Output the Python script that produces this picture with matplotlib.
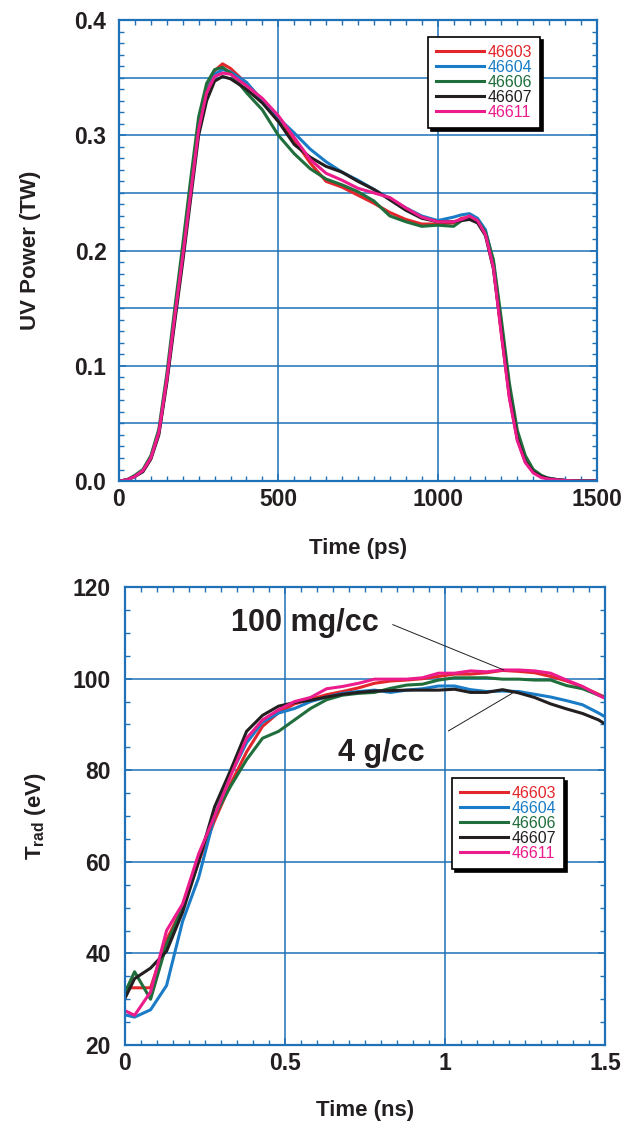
import numpy as np
import matplotlib
matplotlib.use("Agg")
import matplotlib.pyplot as plt
from matplotlib.ticker import MultipleLocator

plt.rcParams["font.family"] = ["Liberation Sans", "DejaVu Sans"]
plt.rcParams["font.weight"] = "bold"
plt.rcParams["axes.labelweight"] = "bold"
plt.rcParams["mathtext.fontset"] = "custom"
plt.rcParams["mathtext.rm"] = "Liberation Sans:bold"
plt.rcParams["mathtext.default"] = "rm"

# ---- data ----
shots = ["46603", "46604", "46606", "46607", "46611"]
shot_colors = ["#e3262b", "#1a7cc6", "#1f6e3b", "#231f20", "#ec1c8c"]

# top panel: UV laser power vs time (ps)
t_ps = [0, 25, 50, 75, 100, 125, 150, 175, 200, 225, 250, 275, 300, 325, 350,
        400, 450, 500, 550, 600, 650, 700, 750, 800, 850, 900, 950, 1000, 1050,
        1075, 1100, 1125, 1150, 1175, 1200, 1225, 1250, 1275, 1300, 1325, 1350,
        1400, 1450, 1500]
p_46603 = [0, 0.001, 0.004, 0.009, 0.020, 0.042, 0.088, 0.143, 0.195, 0.250,
           0.306, 0.340, 0.356, 0.362, 0.358, 0.345, 0.330, 0.312, 0.296, 0.276,
           0.260, 0.255, 0.248, 0.241, 0.233, 0.227, 0.223, 0.223, 0.224, 0.228,
           0.229, 0.226, 0.215, 0.186, 0.128, 0.073, 0.036, 0.017, 0.008, 0.004,
           0.002, 0.0005, 0, 0]
p_46604 = [0, 0.001, 0.004, 0.009, 0.020, 0.042, 0.088, 0.143, 0.195, 0.250,
           0.305, 0.338, 0.353, 0.357, 0.355, 0.346, 0.330, 0.315, 0.302, 0.288,
           0.277, 0.268, 0.261, 0.253, 0.245, 0.237, 0.230, 0.226, 0.229, 0.231,
           0.232, 0.228, 0.218, 0.190, 0.133, 0.077, 0.038, 0.018, 0.008, 0.004,
           0.002, 0.0005, 0, 0]
p_46606 = [0, 0.001, 0.005, 0.010, 0.022, 0.045, 0.093, 0.150, 0.205, 0.262,
           0.316, 0.345, 0.357, 0.359, 0.354, 0.337, 0.322, 0.300, 0.284, 0.271,
           0.262, 0.257, 0.251, 0.243, 0.230, 0.225, 0.221, 0.222, 0.221, 0.226,
           0.229, 0.226, 0.216, 0.192, 0.140, 0.085, 0.044, 0.022, 0.010, 0.005,
           0.002, 0.0005, 0, 0]
p_46607 = [0, 0.001, 0.004, 0.008, 0.019, 0.040, 0.085, 0.138, 0.190, 0.245,
           0.300, 0.330, 0.347, 0.351, 0.349, 0.340, 0.328, 0.312, 0.292, 0.281,
           0.273, 0.268, 0.260, 0.253, 0.244, 0.235, 0.228, 0.225, 0.225, 0.226,
           0.227, 0.224, 0.213, 0.184, 0.130, 0.075, 0.037, 0.017, 0.008, 0.004,
           0.002, 0.0005, 0, 0]
p_46611 = [0, 0.001, 0.004, 0.009, 0.020, 0.042, 0.088, 0.143, 0.195, 0.250,
           0.305, 0.337, 0.351, 0.354, 0.353, 0.343, 0.332, 0.317, 0.298, 0.279,
           0.267, 0.261, 0.254, 0.250, 0.246, 0.237, 0.229, 0.225, 0.225, 0.227,
           0.230, 0.226, 0.214, 0.185, 0.127, 0.072, 0.035, 0.016, 0.007, 0.003,
           0.0015, 0.0005, 0, 0]

# bottom panel: radiation temperature vs time (ns)
t_ns = [0, 0.03, 0.08, 0.13, 0.18, 0.23, 0.28, 0.33, 0.38, 0.43, 0.48, 0.53,
        0.58, 0.63, 0.68, 0.73, 0.78, 0.83, 0.88, 0.93, 0.98, 1.03, 1.08, 1.13,
        1.18, 1.23, 1.28, 1.33, 1.38, 1.43, 1.48, 1.53]
tr_46603 = [32.5, 32.5, 32.5, 43.0, 50.0, 60.0, 69.0, 77.0, 84.0, 89.6, 92.6,
            94.5, 95.5, 96.5, 97.2, 98.0, 99.0, 99.5, 99.7, 100.0, 100.5, 101.0,
            101.0, 101.3, 101.8, 101.6, 101.3, 100.5, 99.5, 98.2, 96.6, 95.0]
tr_46604 = [26.6, 26.1, 27.7, 33.0, 47.0, 56.5, 70.0, 79.0, 86.0, 90.5, 92.5,
            93.5, 95.0, 96.0, 96.8, 97.2, 97.5, 97.0, 97.5, 97.8, 98.4, 98.4,
            97.6, 97.2, 97.3, 97.2, 96.6, 96.0, 95.2, 94.3, 92.5, 90.5]
tr_46606 = [31.5, 36.0, 30.0, 42.0, 50.0, 61.0, 70.0, 76.5, 82.3, 87.0, 88.5,
            91.0, 93.5, 95.4, 96.4, 96.8, 97.0, 97.9, 98.6, 98.8, 99.7, 100.2,
            100.2, 100.2, 99.9, 99.9, 99.7, 99.7, 98.5, 97.8, 96.4, 95.0]
tr_46607 = [30.2, 34.5, 36.8, 40.5, 49.0, 60.0, 72.0, 80.0, 88.5, 92.0, 94.0,
            94.8, 95.3, 96.0, 96.6, 97.0, 97.3, 97.4, 97.5, 97.5, 97.5, 97.7,
            97.0, 97.0, 97.6, 96.9, 95.9, 94.5, 93.4, 92.4, 91.0, 88.8]
tr_46611 = [27.5, 26.5, 31.6, 45.0, 50.8, 61.7, 70.0, 78.7, 87.0, 91.0, 93.2,
            95.0, 95.9, 97.8, 98.3, 99.0, 99.9, 99.9, 99.9, 100.2, 101.2, 101.2,
            101.7, 101.5, 101.9, 101.9, 101.7, 101.2, 99.7, 98.3, 96.4, 94.7]

power = [p_46603, p_46604, p_46606, p_46607, p_46611]
trad = [tr_46603, tr_46604, tr_46606, tr_46607, tr_46611]

GRID = "#1f72b8"
INK = "#231f20"


def style_axes(ax, xmaj, xmin, ymaj, ymin):
    ax.xaxis.set_major_locator(MultipleLocator(xmaj))
    ax.xaxis.set_minor_locator(MultipleLocator(xmin))
    ax.yaxis.set_major_locator(MultipleLocator(ymaj))
    ax.yaxis.set_minor_locator(MultipleLocator(ymin))
    ax.grid(True, which="major", color=GRID, linewidth=1.1)
    ax.set_axisbelow(True)
    for s in ax.spines.values():
        s.set_color(GRID)
        s.set_linewidth(1.6)
    ax.tick_params(which="both", direction="in", top=True, right=True,
                   color=GRID, labelcolor=INK, labelsize=16.5)
    ax.tick_params(which="major", length=5, width=1.1)
    ax.tick_params(which="minor", length=3.5, width=1.0)


def add_legend(ax, anchor):
    leg = ax.legend(loc="upper left", bbox_to_anchor=anchor, borderaxespad=0,
                    handlelength=3.0, handletextpad=0.25,
                    labelspacing=0.0, borderpad=0.5, fancybox=False,
                    framealpha=1, edgecolor="black",
                    shadow={"color": "black", "alpha": 1},
                    prop={"weight": "normal", "size": 11.5})
    leg.get_frame().set_linewidth(1.2)
    for txt, c in zip(leg.get_texts(), shot_colors):
        txt.set_color(c)
    return leg


fig = plt.figure(figsize=(6.37, 11.26), dpi=100)

# ---- top: UV power ----
ax1 = fig.add_axes([0.1868, 0.5728, 0.7504, 0.4094])
for lab, col, vals in zip(shots, shot_colors, power):
    ax1.plot(t_ps, vals, color=col, lw=2.2, label=lab, solid_joinstyle="round")
ax1.set_xlim(0, 1500)
ax1.set_ylim(0, 0.4)
style_axes(ax1, 500, 50, 0.05, 0.01)
ax1.set_yticks([0, 0.1, 0.2, 0.3, 0.4])
ax1.set_yticklabels(["0.0", "0.1", "0.2", "0.3", "0.4"])
ax1.yaxis.set_minor_locator(MultipleLocator(0.01))
ax1.tick_params(axis="y", pad=9)
ax1.tick_params(axis="x", pad=5)
for yg in [0.05, 0.15, 0.25, 0.35]:
    ax1.axhline(yg, color=GRID, lw=1.1, zorder=0.5)
ax1.set_xlabel("Time (ps)", fontsize=16, color=INK)
ax1.set_ylabel("UV Power (TW)", fontsize=16, color=INK)
ax1.xaxis.set_label_coords(0.5, -0.124)
ax1.yaxis.set_label_coords(-0.163, 0.5)
add_legend(ax1, (0.646, 0.963))

# ---- bottom: radiation temperature ----
ax2 = fig.add_axes([0.1962, 0.0719, 0.7535, 0.4067])
for lab, col, vals in zip(shots, shot_colors, trad):
    ax2.plot(t_ns, vals, color=col, lw=2.2, label=lab, solid_joinstyle="round")
ax2.set_xlim(0, 1.5)
ax2.set_ylim(20, 120)
style_axes(ax2, 0.5, 0.05, 20, 5)
ax2.set_xticks([0, 0.5, 1, 1.5])
ax2.set_xticklabels(["0", "0.5", "1", "1.5"])
ax2.tick_params(axis="y", pad=10)
ax2.tick_params(axis="x", pad=5)
ax2.set_xlabel("Time (ns)", fontsize=16, color=INK)
ax2.set_ylabel(r"T$_{\mathrm{rad}}$ (eV)", fontsize=16, color=INK)
ax2.xaxis.set_label_coords(0.5, -0.120)
ax2.yaxis.set_label_coords(-0.160, 0.5)

ax2.text(0.33, 110.4, "100 mg/cc", fontsize=22, fontweight="bold",
         color=INK, ha="left", va="baseline")
ax2.plot([0.837, 1.184], [111.8, 101.9], color=INK, lw=0.7)
ax2.text(0.666, 82.0, "4 g/cc", fontsize=22, fontweight="bold",
         color=INK, ha="left", va="baseline")
ax2.plot([1.011, 1.21], [88.6, 96.8], color=INK, lw=0.7)
add_legend(ax2, (0.681, 0.583))

fig.savefig("out.png", dpi=100)
